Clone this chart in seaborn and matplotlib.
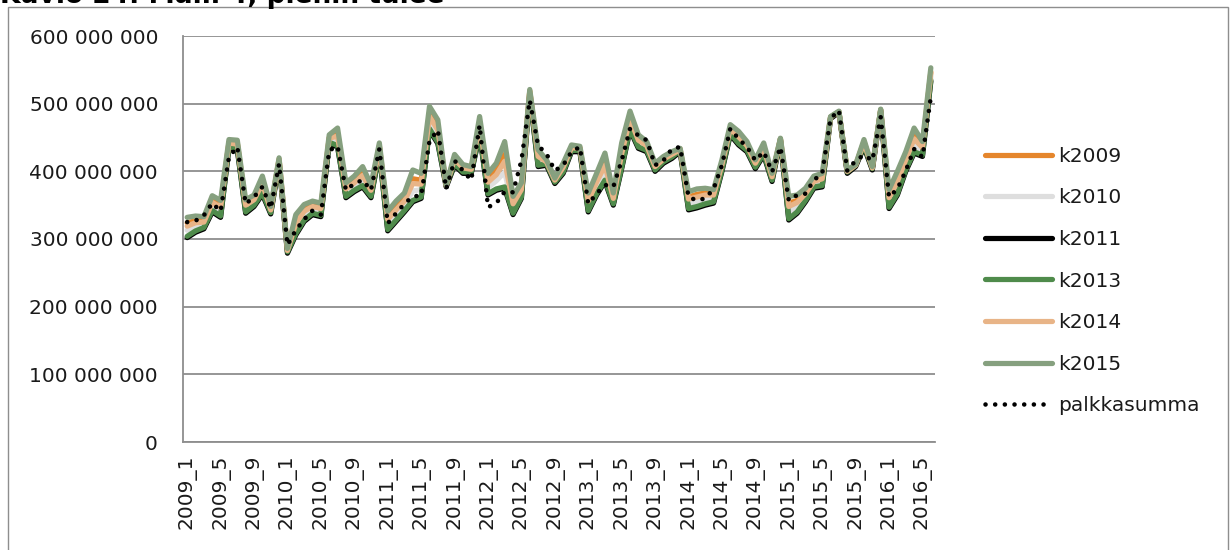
import matplotlib
matplotlib.use("Agg")
import matplotlib.pyplot as plt
from matplotlib.ticker import FixedLocator, FuncFormatter
from matplotlib.patches import Rectangle
import seaborn as sns
import pandas as pd
import numpy as np

# ---- data (millions of euros) ----
months = [f"{y}_{m}" for y in range(2009, 2017) for m in range(1, 13)][:90]

k2009 = [324, 327, 328, 357, 350, 443, 442, 352, 360, 385,
         345, 418, 284, 328, 344, 350, 347, 450, 456, 377,
         387, 399, 375, 438, 333, 348, 360, 389, 387, 486,
         466, 379, 421, 406, 404, 473, 388, 401, 425, 355,
         377, 519, 425, 415, 388, 408, 436, 435, 360, 388,
         415, 363, 431, 481, 448, 440, 409, 419, 426, 433,
         362, 366, 368, 367, 412, 465, 453, 440, 413, 437,
         394, 448, 353, 357, 369, 388, 391, 480, 488, 401,
         409, 444, 406, 491, 365, 390, 421, 454, 438, 547]
k2010 = [313, 318, 321, 348, 341, 439, 437, 345, 354, 375,
         341, 415, 281, 317, 335, 343, 340, 446, 446, 369,
         378, 388, 368, 432, 322, 337, 350, 371, 373, 473,
         453, 378, 415, 402, 401, 463, 376, 386, 399, 345,
         368, 516, 416, 412, 385, 402, 433, 432, 350, 376,
         400, 356, 417, 471, 441, 434, 404, 416, 423, 431,
         352, 356, 359, 360, 406, 459, 446, 434, 409, 430,
         389, 448, 340, 347, 362, 381, 384, 480, 488, 399,
         408, 440, 404, 491, 355, 377, 410, 440, 430, 540]
k2011 = [302, 310, 315, 340, 332, 434, 432, 338, 348, 366,
         337, 412, 279, 306, 326, 336, 333, 441, 436, 361,
         370, 377, 361, 427, 312, 326, 340, 355, 360, 461,
         441, 377, 409, 397, 397, 454, 365, 372, 375, 336,
         360, 513, 407, 409, 382, 397, 429, 429, 340, 365,
         385, 350, 404, 461, 434, 429, 400, 412, 419, 429,
         343, 346, 350, 353, 400, 454, 439, 429, 404, 424,
         385, 446, 328, 338, 355, 375, 377, 478, 487, 397,
         407, 436, 402, 489, 345, 365, 400, 427, 422, 533]
k2013 = [304, 312, 317, 342, 334, 436, 434, 340, 350, 368,
         339, 414, 281, 308, 328, 338, 335, 443, 438, 363,
         372, 379, 363, 429, 314, 328, 342, 357, 362, 463,
         443, 379, 411, 399, 399, 456, 367, 374, 377, 338,
         362, 515, 409, 411, 384, 399, 431, 431, 342, 367,
         387, 352, 406, 463, 436, 431, 402, 414, 421, 431,
         345, 348, 352, 355, 402, 456, 441, 431, 406, 426,
         387, 448, 330, 340, 357, 377, 379, 480, 488, 399,
         409, 438, 404, 491, 347, 367, 402, 429, 424, 535]
k2014 = [319, 324, 325, 354, 347, 442, 440, 350, 358, 382,
         343, 417, 283, 323, 341, 348, 345, 449, 452, 374,
         383, 394, 372, 436, 329, 343, 356, 382, 381, 481,
         461, 379, 418, 405, 403, 470, 384, 395, 415, 352,
         373, 518, 422, 414, 387, 406, 435, 434, 356, 384,
         409, 360, 426, 477, 446, 438, 407, 418, 425, 432,
         359, 362, 365, 365, 410, 463, 451, 438, 412, 434,
         392, 448, 348, 354, 367, 385, 389, 480, 488, 400,
         409, 442, 405, 491, 361, 385, 417, 448, 435, 545]
k2015 = [332, 334, 333, 364, 357, 447, 446, 358, 365, 393,
         348, 420, 286, 336, 351, 356, 353, 454, 464, 383,
         393, 407, 380, 442, 341, 356, 368, 402, 397, 496,
         476, 380, 425, 410, 407, 481, 397, 412, 444, 363,
         383, 521, 432, 417, 390, 412, 439, 437, 368, 397,
         427, 368, 442, 489, 454, 444, 412, 422, 429, 434,
         370, 374, 375, 373, 417, 469, 459, 444, 417, 442,
         397, 449, 363, 365, 375, 393, 397, 481, 489, 402,
         410, 447, 407, 492, 373, 400, 429, 464, 444, 553]
palkkasumma = [325, 327, 335, 353, 341, 421, 436, 352, 362, 377,
               345, 411, 291, 313, 329, 342, 336, 431, 437, 372,
               382, 387, 372, 433, 323, 338, 352, 363, 364, 445,
               461, 374, 416, 401, 387, 468, 347, 353, 370, 369,
               416, 505, 438, 426, 401, 409, 429, 436, 352, 367,
               380, 377, 416, 463, 453, 446, 409, 416, 433, 436,
               362, 357, 360, 374, 409, 463, 448, 436, 416, 429,
               399, 436, 357, 365, 367, 387, 397, 478, 490, 401,
               416, 424, 416, 480, 362, 374, 401, 433, 421, 510]

series_names = ["k2009", "k2010", "k2011", "k2013", "k2014", "k2015", "palkkasumma"]
series_values = [k2009, k2010, k2011, k2013, k2014, k2015, palkkasumma]
series_colors = ["#E5862C", "#DEDEDE", "#000000", "#4F8B4B", "#E8B487", "#86A07F", "#000000"]

# ---- style ----
sns.set_style("white")
plt.rcParams["font.family"] = ["DejaVu Sans"]
plt.rcParams["font.size"] = 14.5

fig = plt.figure(figsize=(12.3, 5.5), dpi=100)
ax = fig.add_axes([183 / 1230, 108 / 550, (935 - 183) / 1230, (442 - 36) / 550])

idx = np.arange(len(months))
for name, vals, col in zip(series_names, series_values, series_colors):
    df = pd.DataFrame({"x": idx, "y": vals})
    if name == "palkkasumma":
        sns.lineplot(data=df, x="x", y="y", ax=ax, color=col, label=name,
                     linewidth=3.3, linestyle=(0, (0.01, 2.1)),
                     dash_capstyle="round", zorder=10)
    else:
        sns.lineplot(data=df, x="x", y="y", ax=ax, color=col, label=name,
                     linewidth=3.75, solid_capstyle="round",
                     solid_joinstyle="round", zorder=3)

ax.set_xlim(-0.5, len(months) - 0.5)
ax.set_ylim(0, 600)
ax.set_xlabel("")
ax.set_ylabel("")

grid_col = "#8E8E8E"
ax.yaxis.set_major_locator(FixedLocator([0, 100, 200, 300, 400, 500, 600]))
ax.yaxis.set_major_formatter(FuncFormatter(
    lambda v, p: "0" if v == 0 else f"{int(round(v * 1e6)):,}".replace(",", " ")))
ax.grid(axis="y", color=grid_col, linewidth=1.3, zorder=0)
ax.grid(axis="x", visible=False)
ax.set_axisbelow(True)

ax.set_xticks(idx[::4])
ax.set_xticklabels([months[i] for i in idx[::4]], rotation=90)
ax.set_xticks(np.arange(-0.5, len(months), 1.0), minor=True)
ax.tick_params(axis="x", which="major", length=0, pad=9, labelsize=14.5, colors="#1a1a1a")
ax.tick_params(axis="x", which="minor", length=5, width=1.1, color=grid_col, direction="out")
ax.tick_params(axis="y", which="major", length=6, width=1.1, color=grid_col,
               pad=12, labelsize=14.5, labelcolor="#1a1a1a", direction="out")

for s in ["top", "right"]:
    ax.spines[s].set_visible(False)
for s in ["left", "bottom"]:
    ax.spines[s].set_color(grid_col)
    ax.spines[s].set_linewidth(1.3)

handles, labels = ax.get_legend_handles_labels()
leg = ax.legend(handles, labels, loc="center left", bbox_to_anchor=(975 / 1230, 1 - 281 / 550),
                bbox_transform=fig.transFigure, frameon=False, fontsize=14.5,
                handlelength=3.3, handletextpad=0.35, labelspacing=1.12, borderpad=0)
for t in leg.get_texts():
    t.set_color("#1a1a1a")

# chart border and clipped title (the reference shows only its lower part)
fig.patches.append(Rectangle((8 / 1230, -0.1), (1228 - 8) / 1230, 1.1 - 7 / 550,
                             transform=fig.transFigure, fill=False,
                             edgecolor="#8E8E8E", linewidth=1.0))
fig.text(0 / 1230, 1 - 3 / 550, "Kuvio 24: Malli 4, pienin tulee", fontsize=19,
         fontweight="bold", ha="left", va="baseline", color="#000000")

fig.savefig("out.png", dpi=100)
